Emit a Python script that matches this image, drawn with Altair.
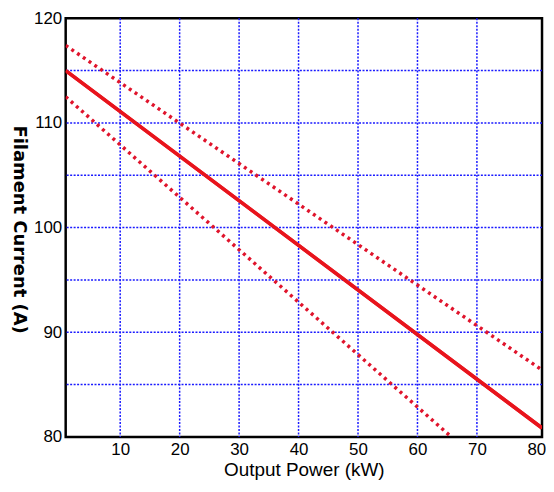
import altair as alt
import pandas as pd

# Line end points (Output Power kW, Filament Current A)
nominal_power = [0.83, 80.95]
nominal_current = [115.0, 80.85]
upper_power = [0.83, 80.95]
upper_current = [117.4, 86.4]
lower_power = [0.83, 65.7]
lower_current = [112.5, 80.0]

x_labels = [10, 20, 30, 40, 50, 60, 70, 80]
y_labels = [80, 90, 100, 110, 120]
x_grid = [10, 20, 30, 40, 50, 60, 70]
y_grid = [85, 90, 95, 100, 105, 110, 115]

x_domain = [0.83, 80.95]
y_domain = [80, 120]

nom = pd.DataFrame({"p": nominal_power, "c": nominal_current, "s": "nominal"})
up = pd.DataFrame({"p": upper_power, "c": upper_current, "s": "upper"})
lo = pd.DataFrame({"p": lower_power, "c": lower_current, "s": "lower"})
bounds = pd.concat([up, lo])

xs = alt.Scale(domain=x_domain, nice=False, zero=False)
ys = alt.Scale(domain=y_domain, nice=False, zero=False)

xaxis = alt.Axis(values=x_labels, title="Output Power (kW)", grid=False, ticks=False,
                 domain=False, labelFontSize=17, labelPadding=5, titleFontSize=19,
                 titleY=33, titleBaseline="middle", labelFont="Liberation Sans",
                 titleFont="Liberation Sans", titleFontWeight="normal",
                 labelColor="black", titleColor="black")
yaxis = alt.Axis(values=y_labels, title="Filament Current (A)", grid=False, ticks=False,
                 domain=False, labelFontSize=17, labelPadding=4, titleFontSize=18,
                 titleAngle=90, titleX=-47, titleY=212, titleAlign="center",
                 titleBaseline="middle", labelFont="Liberation Sans",
                 titleFont="DejaVu Sans", titleFontWeight="bold", labelColor="black",
                 titleColor="black")

base = alt.Chart(nom).mark_line(color="#e8141c", strokeWidth=3.5, clip=True).encode(
    x=alt.X("p:Q", scale=xs, axis=xaxis),
    y=alt.Y("c:Q", scale=ys, axis=yaxis),
)

vgrid = alt.Chart(pd.DataFrame({"g": x_grid})).mark_rule(
    color="#1a1aff", strokeWidth=1.5, strokeDash=[2, 1.5]
).encode(x=alt.X("g:Q", scale=xs))
hgrid = alt.Chart(pd.DataFrame({"g": y_grid})).mark_rule(
    color="#1a1aff", strokeWidth=1.5, strokeDash=[2, 1.5]
).encode(y=alt.Y("g:Q", scale=ys))

dotted = alt.Chart(bounds).mark_line(
    color="#e0142c", strokeWidth=3.5, strokeDash=[3, 4], clip=True
).encode(
    x=alt.X("p:Q", scale=xs),
    y=alt.Y("c:Q", scale=ys),
    detail="s:N",
)

chart = alt.layer(base, vgrid, hgrid, dotted, base).properties(
    width=479, height=421,
    autosize=alt.AutoSizeParams(type="none"),
    padding={"left": 58, "top": 9, "right": 4, "bottom": 42},
).configure(background="white").configure_view(stroke="black", strokeWidth=2.5)

chart.save("out.html", embed_options={"renderer": "svg", "actions": False})
